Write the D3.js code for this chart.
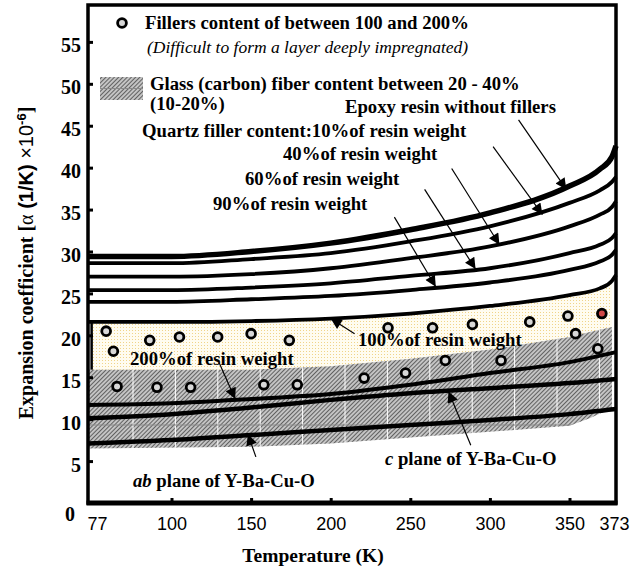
<!DOCTYPE html>
<html>
<head>
<meta charset="utf-8">
<script src="https://cdn.jsdelivr.net/npm/d3@7"></script>
<style>
body { margin: 0; background: #ffffff; }
</style>
</head>
<body>
<div id="chart"></div>
<script>
let width = 640;
let height = 571;
let serif = "'Liberation Serif', 'Times New Roman', serif";
let sans = "'Liberation Sans', Arial, sans-serif";

// axis values
let tempBreaks = [77, 100, 350, 373];
let tempTicks = [77, 100, 150, 200, 250, 300, 350, 373];
let alphaTicks = [0, 5, 10, 15, 20, 25, 30, 35, 40, 45, 50, 55];

// resin curves (quartz filler content)
let curveTemps = [77, 100, 150, 200, 250, 300, 350, 365, 371, 373];
let epoxy = [29.4, 29.4, 30.0, 31.0, 32.6, 34.6, 37.8, 39.8, 41.3, 42.6];
let quartz10 = [28.6, 28.6, 29.1, 29.8, 31.2, 33.0, 35.8, 37.3, 38.3, 38.9];
let quartz40 = [27.0, 27.0, 27.3, 28.0, 29.2, 30.6, 33.0, 34.4, 35.3, 36.0];
let quartz60 = [25.4, 25.4, 25.7, 26.2, 27.1, 28.0, 29.8, 30.8, 31.6, 32.2];
let quartz90 = [24.0, 24.0, 24.3, 24.7, 25.4, 26.3, 27.8, 28.8, 29.6, 30.2];
let quartz100 = [21.6, 21.6, 21.7, 22.0, 22.6, 23.5, 24.8, 25.6, 26.5, 27.2];

// lower curves
let lowTemps = [77, 100, 150, 200, 250, 300, 350, 373];
let quartz200 = [11.7, 11.9, 12.4, 13.0, 14.1, 15.5, 16.8, 18.0];
let cPlane = [10.1, 10.6, 11.4, 12.3, 13.1, 13.7, 14.3, 14.8];
let abPlane = [7.1, 7.5, 8.1, 8.7, 9.3, 9.9, 10.6, 11.2];

// glass (carbon) fiber band
let bandTemps = [77, 150, 200, 250, 300, 350, 360, 371];
let bandTop = [15.9, 15.9, 16.3, 17.2, 18.3, 19.8, 20.4, 21.0];
let bandBottom = [6.5, 6.7, 7.1, 7.8, 8.5, 9.2, 10.1, 11.3];

// fillers 100-200% points
let fillerTemps = [82, 84, 94, 105, 129, 150, 174, 85, 96, 112, 158, 179,
    236, 264, 289, 325, 349, 366, 353, 364, 221, 247, 272, 307];
let fillerAlpha = [20.5, 18.1, 19.4, 19.8, 19.8, 20.2, 19.4, 13.9, 13.8, 13.8, 14.1, 14.1,
    20.9, 20.9, 21.3, 21.6, 22.3, 22.6, 20.2, 18.4, 14.9, 15.5, 17.0, 17.0];

// arrows: [fromT, fromA, toT, toA]
let arrows = [
    [318, 45.7, 348, 37.4],
    [302, 42.5, 333, 34.4],
    [276, 39.9, 306, 30.8],
    [259, 37.4, 291, 27.9],
    [240, 34.1, 266, 25.8],
    [215, 20.2, 200, 22.0],
    [130, 16.7, 140, 12.4],
    [153, 5.5, 148, 8.2],
    [288, 6.9, 274, 13.3]
];

let x = d3.scaleLinear().domain(tempBreaks).range([88, 171.5, 569.5, 616]);
let y = d3.scaleLinear().domain([0, 59.4]).range([503, 5]);

let svg = d3.select("#chart")
    .append("svg")
    .attr("width", width)
    .attr("height", height)
    .style("font-family", serif);

let defs = svg.append("defs");

let hatch = defs.append("pattern")
    .attr("id", "hatch")
    .attr("patternUnits", "userSpaceOnUse")
    .attr("width", 3)
    .attr("height", 3)
    .attr("patternTransform", "rotate(45)");
hatch.append("rect").attr("width", 3).attr("height", 3).attr("fill", "#c4c4c4");
hatch.append("line")
    .attr("x1", 0).attr("y1", 0).attr("x2", 0).attr("y2", 3)
    .attr("stroke", "#404040").attr("stroke-width", 1.5);

let speckle = defs.append("pattern")
    .attr("id", "speckle")
    .attr("patternUnits", "userSpaceOnUse")
    .attr("width", 3)
    .attr("height", 3);
speckle.append("rect").attr("width", 3).attr("height", 3).attr("fill", "#fffcf0");
speckle.append("rect").attr("width", 1).attr("height", 1).attr("fill", "#f0d48a");

defs.append("marker")
    .attr("id", "head")
    .attr("viewBox", "0 0 10 10")
    .attr("refX", 10)
    .attr("refY", 5)
    .attr("markerWidth", 18)
    .attr("markerHeight", 11)
    .attr("markerUnits", "userSpaceOnUse")
    .attr("orient", "auto")
    .append("path")
    .attr("d", "M0,0L10,5L0,10Z")
    .attr("fill", "#000");

let bandData = d3.zip(bandTemps, bandTop, bandBottom);
let bandArea = d3.area()
    .x(d => x(d[0]))
    .y0(d => y(d[2]))
    .y1(d => y(d[1]));

defs.append("clipPath").attr("id", "bandClip")
    .append("path").attr("d", bandArea(bandData));

// yellow region between 100% curve and the band
let topOfBand = d3.scaleLinear().domain(bandTemps).range(bandTop);
let yellowData = d3.zip(curveTemps, quartz100).filter(d => d[0] <= 371);
yellowData[0][0] = 78;
svg.append("path")
    .attr("d", d3.area()
        .x(d => x(d[0]))
        .y0(d => y(topOfBand(d[0])))
        .y1(d => y(d[1]))
        .curve(d3.curveMonotoneX)(yellowData))
    .attr("fill", "url(#speckle)");

svg.append("path")
    .attr("d", bandArea(bandData))
    .attr("fill", "url(#hatch)");

let grid = svg.append("g").attr("clip-path", "url(#bandClip)");
grid.selectAll("line.v")
    .data(d3.range(133, 612, 42.4))
    .join("line")
    .attr("class", "v")
    .attr("x1", d => d).attr("x2", d => d)
    .attr("y1", y(25)).attr("y2", y(5))
    .attr("stroke", "#ffffff").attr("stroke-width", 1);
grid.append("line")
    .attr("x1", x(77)).attr("x2", x(373))
    .attr("y1", y(9.3)).attr("y2", y(9.3))
    .attr("stroke", "#8a8a8a").attr("stroke-width", 1);

// left edge of the yellow region
svg.append("line")
    .attr("x1", x(78)).attr("x2", x(78))
    .attr("y1", y(quartz100[0])).attr("y2", y(bandTop[0]))
    .attr("stroke", "#000").attr("stroke-width", 2.5);

let line = d3.line()
    .x(d => x(d[0]))
    .y(d => y(d[1]))
    .curve(d3.curveMonotoneX);

let upper = [
    {values: epoxy, w: 5.5},
    {values: quartz10, w: 3.8},
    {values: quartz40, w: 3.8},
    {values: quartz60, w: 3.8},
    {values: quartz90, w: 3.8},
    {values: quartz100, w: 3.8}
];
svg.selectAll("path.upper")
    .data(upper)
    .join("path")
    .attr("class", "upper")
    .attr("d", d => line(d3.zip(curveTemps, d.values)))
    .attr("fill", "none")
    .attr("stroke", "#000")
    .attr("stroke-width", d => d.w);

let lower = [
    {values: quartz200, w: 4},
    {values: cPlane, w: 4.5},
    {values: abPlane, w: 4.5}
];
svg.selectAll("path.lower")
    .data(lower)
    .join("path")
    .attr("class", "lower")
    .attr("d", d => line(d3.zip(lowTemps, d.values)))
    .attr("fill", "none")
    .attr("stroke", "#000")
    .attr("stroke-width", d => d.w);

// filler points
let fillers = d3.zip(fillerTemps, fillerAlpha);
svg.selectAll("circle.filler")
    .data(fillers)
    .join("circle")
    .attr("class", "filler")
    .attr("cx", d => x(d[0]))
    .attr("cy", d => y(d[1]))
    .attr("r", 4.4)
    .attr("fill", (d, i) => i == 17 ? "#d04848" : "#d8d8d8")
    .attr("stroke", "#000")
    .attr("stroke-width", 2.8);

// arrows
svg.selectAll("line.arrow")
    .data(arrows)
    .join("line")
    .attr("class", "arrow")
    .attr("x1", d => x(d[0]))
    .attr("y1", d => y(d[1]))
    .attr("x2", d => x(d[2]))
    .attr("y2", d => y(d[3]))
    .attr("stroke", "#000")
    .attr("stroke-width", 1.2)
    .attr("marker-end", "url(#head)");

// legend
svg.append("circle")
    .attr("cx", 122).attr("cy", 23).attr("r", 4.4)
    .attr("fill", "#d8d8d8").attr("stroke", "#000").attr("stroke-width", 2.8);
svg.append("rect")
    .attr("x", 100).attr("y", 77).attr("width", 43).attr("height", 23)
    .attr("fill", "url(#hatch)");
svg.append("line")
    .attr("x1", 100).attr("x2", 143).attr("y1", 88.5).attr("y2", 88.5)
    .attr("stroke", "#8a8a8a").attr("stroke-width", 1);

let labels = [
    {text: "Fillers content of between 100 and 200%", x: 145, y: 29},
    {text: "Glass (carbon) fiber content between 20 - 40%", x: 150, y: 90},
    {text: "(10-20%)", x: 150, y: 110},
    {text: "Epoxy resin without fillers", x: 345, y: 113},
    {text: "Quartz filler content:10%of resin weight", x: 142, y: 137},
    {text: "40%of resin weight", x: 283, y: 160},
    {text: "60%of resin weight", x: 245, y: 185},
    {text: "90%of resin weight", x: 213, y: 210},
    {text: "100%of resin weight", x: 358, y: 346},
    {text: "200%of resin weight", x: 130, y: 365}
];
svg.selectAll("text.label")
    .data(labels)
    .join("text")
    .attr("class", "label")
    .attr("x", d => d.x)
    .attr("y", d => d.y)
    .attr("font-size", 18.7)
    .attr("font-weight", "bold")
    .text(d => d.text);

svg.append("text")
    .attr("x", 147).attr("y", 53)
    .attr("font-size", 17.5)
    .attr("font-style", "italic")
    .text("(Difficult to form a layer deeply impregnated)");

let ab = svg.append("text").attr("x", 133).attr("y", 487)
    .attr("font-size", 18.7).attr("font-weight", "bold");
ab.append("tspan").attr("font-style", "italic").text("ab");
ab.append("tspan").text(" plane of Y-Ba-Cu-O");

let cp = svg.append("text").attr("x", 385).attr("y", 465)
    .attr("font-size", 18.7).attr("font-weight", "bold");
cp.append("tspan").attr("font-style", "italic").text("c");
cp.append("tspan").text(" plane of Y-Ba-Cu-O");

// frame
svg.append("rect")
    .attr("x", x(77)).attr("y", y(59.4))
    .attr("width", x(373) - x(77)).attr("height", y(0) - y(59.4))
    .attr("fill", "none").attr("stroke", "#000").attr("stroke-width", 3.5);
svg.append("line")
    .attr("x1", x(77) - 1.5).attr("x2", x(373) + 1.5)
    .attr("y1", y(0)).attr("y2", y(0))
    .attr("stroke", "#000").attr("stroke-width", 5);

// axes
let yAxis = svg.append("g")
    .attr("transform", `translate(${x(77)},0)`)
    .call(d3.axisLeft(y).tickValues(alphaTicks).tickSizeInner(-5).tickSizeOuter(0).tickPadding(7));
yAxis.select(".domain").remove();
yAxis.selectAll(".tick line").attr("stroke-width", 3);
yAxis.selectAll(".tick text")
    .attr("font-family", serif)
    .attr("font-size", 20)
    .attr("font-weight", "bold")
    .attr("fill", "#000")
    .attr("dy", d => d == 0 ? "0.85em" : "0.5em")
    .attr("x", d => d == 0 ? -13 : -7);

let xAxis = svg.append("g")
    .attr("transform", `translate(0,${y(0)})`)
    .call(d3.axisBottom(x).tickValues(tempTicks).tickSizeInner(-5).tickSizeOuter(0).tickPadding(14));
xAxis.select(".domain").remove();
xAxis.selectAll(".tick line")
    .attr("stroke-width", 3)
    .attr("display", d => (d == 77 || d == 373) ? "none" : null);
xAxis.selectAll(".tick text")
    .attr("font-family", sans)
    .attr("font-size", 18)
    .attr("fill", "#000")
    .attr("dx", d => d == 77 ? 9 : (d == 373 ? -2 : 0));

svg.append("text")
    .attr("x", 313).attr("y", 562)
    .attr("text-anchor", "middle")
    .attr("font-size", 19.5)
    .attr("font-weight", "bold")
    .text("Temperature (K)");

let yTitle = svg.append("text")
    .attr("transform", "translate(33,263) rotate(-90)")
    .attr("text-anchor", "middle")
    .attr("font-size", 20)
    .attr("font-weight", "bold");
yTitle.append("tspan").text("Expansion coefficient [");
yTitle.append("tspan").attr("font-weight", "normal").text("α");
yTitle.append("tspan").attr("font-family", sans).text(" (1/K) ");
yTitle.append("tspan").attr("font-family", sans).attr("font-weight", "normal").text("×10");
yTitle.append("tspan").attr("font-family", sans).attr("font-size", 13).attr("dy", -7).text("-6");
yTitle.append("tspan").attr("dy", 7).text("]");
</script>
</body>
</html>
